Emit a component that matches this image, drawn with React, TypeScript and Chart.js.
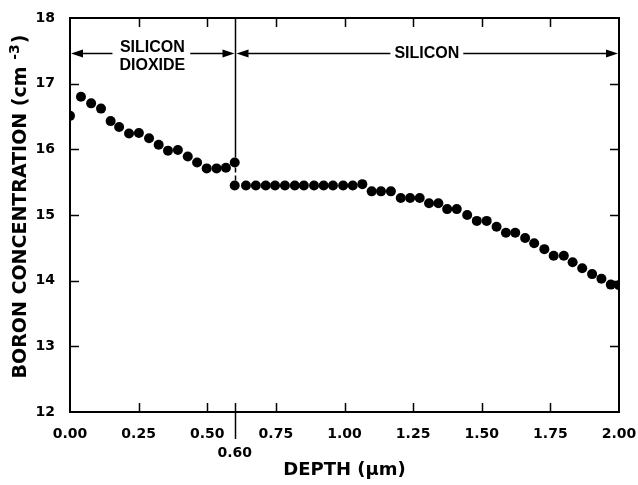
import React, { useEffect, useRef } from "react";
import { Chart, registerables } from "chart.js";

Chart.register(...registerables);

// Depth (µm) and log10 boron concentration (cm^-3)
const oxideDepth = [0, 0.04, 0.077, 0.113, 0.148, 0.179, 0.215, 0.251, 0.288, 0.323, 0.357, 0.393, 0.429, 0.463, 0.498, 0.534, 0.568, 0.6];
const oxideBoron = [16.51, 16.8, 16.7, 16.62, 16.43, 16.34, 16.24, 16.25, 16.17, 16.07, 15.98, 15.99, 15.89, 15.8, 15.71, 15.71, 15.72, 15.8];

const siliconDepth = [
  0.6, 0.641, 0.677, 0.713, 0.747, 0.783, 0.819, 0.852, 0.889, 0.924, 0.958, 0.995, 1.03, 1.065,
  1.099, 1.133, 1.169, 1.205, 1.239, 1.274, 1.308, 1.342, 1.374, 1.409, 1.447, 1.482, 1.518, 1.554,
  1.588, 1.622, 1.658, 1.691, 1.728, 1.762, 1.799, 1.831, 1.866, 1.902, 1.936, 1.97, 2.0,
];
const siliconBoron = [
  15.45, 15.45, 15.45, 15.45, 15.45, 15.45, 15.45, 15.45, 15.45, 15.45, 15.45, 15.45, 15.45, 15.47,
  15.36, 15.36, 15.36, 15.26, 15.26, 15.26, 15.18, 15.18, 15.09, 15.09, 15.0, 14.91, 14.91, 14.82,
  14.73, 14.73, 14.65, 14.57, 14.48, 14.38, 14.38, 14.28, 14.19, 14.1, 14.03, 13.94, 13.93,
];

const xTickValues = [0, 0.25, 0.5, 0.6, 0.75, 1.0, 1.25, 1.5, 1.75, 2.0];
const yTickValues = [12, 13, 14, 15, 16, 17, 18];
const interfaceDepth = 0.6;
const xAxisTitle = "DEPTH (µm)";
const yAxisTitleMain = "BORON CONCENTRATION (cm ";
const yAxisTitleSup = "-3";
const yAxisTitleEnd = ")";
const regionLeftLabel = ["SILICON", "DIOXIDE"];
const regionRightLabel = "SILICON";

const BLACK = "#000";

const framePlugin = {
  id: "framePlugin",
  afterDraw(chart: any) {
    const { ctx, chartArea } = chart;
    const { left, right, top, bottom } = chartArea;
    const xs = chart.scales.x;
    const ys = chart.scales.y;
    ctx.save();
    ctx.strokeStyle = BLACK;
    ctx.fillStyle = BLACK;

    // frame
    ctx.lineWidth = 2;
    ctx.strokeRect(left, top, right - left, bottom - top);

    // inward ticks
    ctx.lineWidth = 1.5;
    ctx.beginPath();
    for (const v of yTickValues) {
      if (v === 12 || v === 18) continue;
      const py = Math.round(ys.getPixelForValue(v)) + 0.5;
      ctx.moveTo(left, py);
      ctx.lineTo(left + 9, py);
      ctx.moveTo(right, py);
      ctx.lineTo(right - 9, py);
    }
    for (const v of xTickValues) {
      if (v === 0 || v === 2 || v === interfaceDepth) continue;
      const px = Math.round(xs.getPixelForValue(v)) + 0.5;
      ctx.moveTo(px, bottom);
      ctx.lineTo(px, bottom - 9);
      ctx.moveTo(px, top);
      ctx.lineTo(px, top + 9);
    }
    ctx.stroke();

    // interface line at 0.6
    const xi = Math.round(xs.getPixelForValue(interfaceDepth)) + 0.5;
    const yUpper = ys.getPixelForValue(oxideBoron[oxideBoron.length - 1]);
    const yLower = ys.getPixelForValue(siliconBoron[0]);
    ctx.beginPath();
    ctx.moveTo(xi, top);
    ctx.lineTo(xi, yUpper - 5);
    ctx.moveTo(xi, bottom - 9);
    ctx.lineTo(xi, bottom + 27);
    ctx.stroke();
    ctx.setLineDash([5, 3]);
    ctx.beginPath();
    ctx.moveTo(xi, yUpper + 5);
    ctx.lineTo(xi, yLower - 5);
    ctx.stroke();
    ctx.setLineDash([]);

    // region annotations with arrows
    const ay = Math.round(ys.getPixelForValue(17.47)) + 0.5;
    const xl = xs.getPixelForValue(0);
    const xr = xs.getPixelForValue(2);
    const xt1 = xs.getPixelForValue(0.3);
    const xt2 = xs.getPixelForValue(1.3);
    ctx.font = 'bold 16px "Liberation Sans", Arial, sans-serif';
    ctx.textAlign = "center";
    ctx.textBaseline = "middle";
    ctx.fillText(regionLeftLabel[0], xt1, ay - 6);
    ctx.fillText(regionLeftLabel[1], xt1, ay + 12);
    ctx.fillText(regionRightLabel, xt2, ay);
    const w1 = Math.max(ctx.measureText(regionLeftLabel[0]).width, ctx.measureText(regionLeftLabel[1]).width);
    const w2 = ctx.measureText(regionRightLabel).width;

    const arrowHead = (tipX: number, dir: number) => {
      ctx.beginPath();
      ctx.moveTo(tipX, ay);
      ctx.lineTo(tipX + dir * 12, ay - 4);
      ctx.lineTo(tipX + dir * 12, ay + 4);
      ctx.closePath();
      ctx.fill();
    };
    ctx.lineWidth = 1.5;
    ctx.beginPath();
    ctx.moveTo(xl + 10, ay);
    ctx.lineTo(xt1 - w1 / 2 - 7, ay);
    ctx.moveTo(xt1 + w1 / 2 + 5, ay);
    ctx.lineTo(xi - 10, ay);
    ctx.moveTo(xi + 10, ay);
    ctx.lineTo(xt2 - w2 / 2 - 4, ay);
    ctx.moveTo(xt2 + w2 / 2 + 4, ay);
    ctx.lineTo(xr - 10, ay);
    ctx.stroke();
    arrowHead(xl + 1, 1);
    arrowHead(xi - 1, -1);
    arrowHead(xi + 1, 1);
    arrowHead(xr - 1, -1);

    // y axis title with superscript
    ctx.translate(21, 207);
    ctx.rotate(-Math.PI / 2);
    ctx.textAlign = "left";
    ctx.textBaseline = "middle";
    const mainFont = 'bold 19px "DejaVu Sans", sans-serif';
    const supFont = 'bold 14px "DejaVu Sans", sans-serif';
    ctx.font = mainFont;
    const wm = ctx.measureText(yAxisTitleMain).width;
    const we = ctx.measureText(yAxisTitleEnd).width;
    ctx.font = supFont;
    const ws = ctx.measureText(yAxisTitleSup).width;
    const start = -(wm + ws + we) / 2;
    ctx.font = mainFont;
    ctx.fillText(yAxisTitleMain, start, 0);
    ctx.font = supFont;
    ctx.fillText(yAxisTitleSup, start + wm, -6);
    ctx.font = mainFont;
    ctx.fillText(yAxisTitleEnd, start + wm + ws + 1, 0);
    ctx.restore();
  },
};

export default function App() {
  const ref = useRef<HTMLCanvasElement>(null);
  useEffect(() => {
    const tickFont = { family: '"DejaVu Sans", sans-serif', weight: "bold" as const, size: 14, lineHeight: 1.35 };
    const chart = new Chart(ref.current!, {
      type: "scatter",
      data: {
        datasets: [
          {
            label: "Silicon dioxide",
            data: oxideDepth.map((x, i) => ({ x, y: oxideBoron[i] })),
            backgroundColor: BLACK,
            borderColor: BLACK,
            pointRadius: 5,
            pointBorderWidth: 0,
          },
          {
            label: "Silicon",
            data: siliconDepth.map((x, i) => ({ x, y: siliconBoron[i] })),
            backgroundColor: BLACK,
            borderColor: BLACK,
            pointRadius: 5,
            pointBorderWidth: 0,
          },
        ],
      },
      options: {
        responsive: false,
        animation: false,
        layout: { padding: { top: 18, right: 19, left: 0, bottom: 0 } },
        plugins: { legend: { display: false }, tooltip: { enabled: false } },
        scales: {
          x: {
            type: "linear",
            min: 0,
            max: 2,
            afterBuildTicks: (s: any) => {
              s.ticks = xTickValues.map((v) => ({ value: v }));
            },
            afterFit: (s: any) => {
              s.height = 73;
              s.paddingLeft = 0;
              s.paddingRight = 0;
            },
            grid: { display: false },
            border: { display: false },
            ticks: {
              autoSkip: false,
              maxRotation: 0,
              color: BLACK,
              padding: 5,
              font: tickFont,
              callback: (v: any) => (Number(v) === interfaceDepth ? ["", Number(v).toFixed(2)] : Number(v).toFixed(2)),
            },
            title: {
              display: true,
              text: xAxisTitle,
              color: BLACK,
              font: { family: '"DejaVu Sans", sans-serif', weight: "bold", size: 18 },
              padding: { top: 0, bottom: 4 },
            },
          },
          y: {
            type: "linear",
            min: 12,
            max: 18,
            afterBuildTicks: (s: any) => {
              s.ticks = yTickValues.map((v) => ({ value: v }));
            },
            afterFit: (s: any) => {
              s.width = 70;
              s.paddingTop = 0;
              s.paddingBottom = 0;
            },
            grid: { display: false },
            border: { display: false },
            ticks: {
              color: BLACK,
              padding: 7,
              font: { family: '"DejaVu Sans", sans-serif', weight: "bold", size: 14 },
              callback: (v: any) => String(v),
            },
          },
        },
      },
      plugins: [framePlugin],
    });
    return () => chart.destroy();
  }, []);
  return (
    <div style={{ position: "absolute", left: 0, top: 0, width: 638, height: 485, background: "#fff" }}>
      <canvas ref={ref} width={638} height={485} style={{ display: "block" }} />
    </div>
  );
}
